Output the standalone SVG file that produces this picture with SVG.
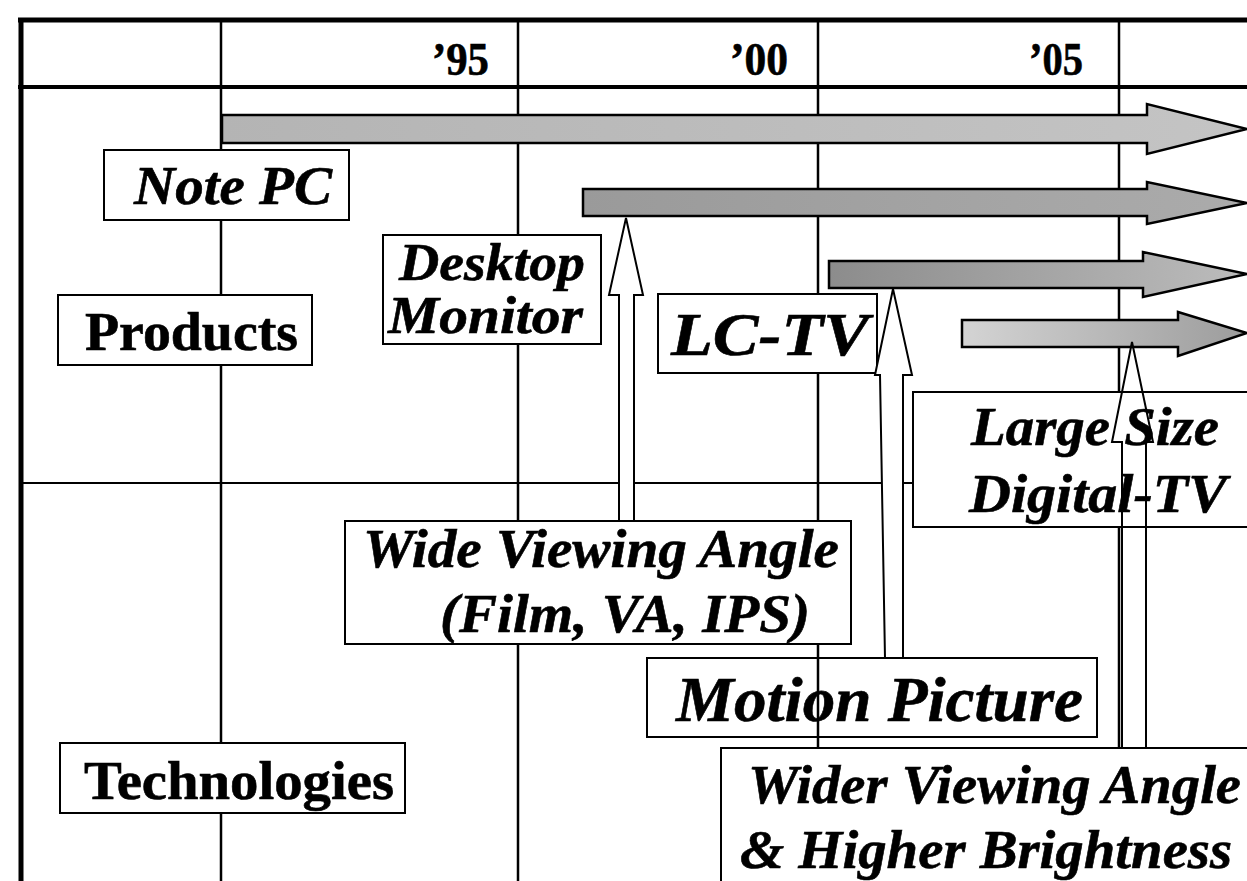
<svg xmlns="http://www.w3.org/2000/svg" width="1247" height="881" viewBox="0 0 1247 881">
<defs>
<style>
.grid{stroke:#000;stroke-width:2.5;fill:none}
.frame{stroke:#000;stroke-width:5;fill:none}
.box{fill:#fff;stroke:#000;stroke-width:2}
.boxo{fill:none;stroke:#000;stroke-width:2}
.bar{stroke:#000;stroke-width:2.5;stroke-linejoin:miter}
.hollow{fill:#fff;stroke:#000;stroke-width:2;stroke-linejoin:miter}
.hollown{fill:none;stroke:#000;stroke-width:2;stroke-linejoin:miter}
.bi{font-family:"Liberation Serif","Times New Roman",serif;font-weight:bold;font-style:italic;fill:#000;stroke:#000;stroke-width:0.6}
.b{font-family:"Liberation Serif","Times New Roman",serif;font-weight:bold;fill:#000;stroke:#000;stroke-width:0.6}
</style>
<linearGradient id="gNote" x1="0" x2="1" y1="0" y2="0"><stop offset="0" stop-color="#b4b4b4"/><stop offset="1" stop-color="#c4c4c4"/></linearGradient>
<linearGradient id="gDesk" x1="0" x2="1" y1="0" y2="0"><stop offset="0" stop-color="#9a9a9a"/><stop offset="1" stop-color="#ababab"/></linearGradient>
<linearGradient id="gLC" x1="0" x2="1" y1="0" y2="0"><stop offset="0" stop-color="#8c8c8c"/><stop offset="1" stop-color="#bcbcbc"/></linearGradient>
<linearGradient id="gLarge" x1="0" x2="1" y1="0" y2="0"><stop offset="0" stop-color="#d4d4d4"/><stop offset="1" stop-color="#9c9c9c"/></linearGradient>
</defs>
<rect width="1247" height="881" fill="#fff"/>
<g id="grid">
<line class="frame" x1="18" y1="20" x2="1247" y2="20"/>
<line class="frame" x1="21" y1="18" x2="21" y2="881"/>
<line class="grid" x1="18" y1="87" x2="1247" y2="87" style="stroke-width:4"/>
<line class="grid" x1="221" y1="20" x2="221" y2="881"/>
<line class="grid" x1="518" y1="20" x2="518" y2="881"/>
<line class="grid" x1="818" y1="20" x2="818" y2="881"/>
<line class="grid" x1="1119" y1="20" x2="1119" y2="881"/>
<line class="grid" x1="21" y1="483" x2="1247" y2="483" style="stroke-width:2"/>
<text class="b" x="432" y="75" font-size="46" textLength="57" lengthAdjust="spacingAndGlyphs">’95</text>
<text class="b" x="730" y="75" font-size="46" textLength="58" lengthAdjust="spacingAndGlyphs">’00</text>
<text class="b" x="1029" y="75" font-size="46" textLength="54" lengthAdjust="spacingAndGlyphs">’05</text>
</g>
<g id="timeline-bars">
<polygon class="bar" fill="url(#gNote)" points="222,115 1147,115 1147,104 1247,129 1147,154 1147,143 222,143"/>
<polygon class="bar" fill="url(#gDesk)" points="583,189 1147,189 1147,182 1247,203 1147,224 1147,216 583,216"/>
<polygon class="bar" fill="url(#gLC)" points="829,261 1143,261 1143,252 1247,274 1143,297 1143,288 829,288"/>
<polygon class="bar" fill="url(#gLarge)" points="962,320 1178,320 1178,312 1247,333 1178,356 1178,347 962,347"/>
</g>
<g id="note-pc"><rect class="box" x="104" y="150" width="245" height="70"/><text class="bi" x="134" y="204" font-size="55" textLength="198" lengthAdjust="spacingAndGlyphs">Note PC</text></g>
<g id="desktop-monitor"><rect class="box" x="383" y="235" width="218" height="109"/><text class="bi" x="399" y="280" font-size="53" textLength="186" lengthAdjust="spacingAndGlyphs">Desktop</text><text class="bi" x="388" y="333" font-size="53" textLength="195" lengthAdjust="spacingAndGlyphs">Monitor</text></g>
<g id="products"><rect class="box" x="58" y="295" width="254" height="70"/><text class="b" x="85" y="350" font-size="54" textLength="213" lengthAdjust="spacingAndGlyphs">Products</text></g>
<g id="lc-tv"><rect class="box" x="658" y="294" width="219" height="79"/><text class="bi" x="671" y="355" font-size="62" textLength="198" lengthAdjust="spacingAndGlyphs">LC-TV</text></g>
<g id="large-size-digital-tv"><rect class="box" x="913" y="392" width="350" height="135"/><text class="bi" x="971" y="445" font-size="55" textLength="248" lengthAdjust="spacingAndGlyphs">Large Size</text><text class="bi" x="969" y="512" font-size="55" textLength="258" lengthAdjust="spacingAndGlyphs">Digital-TV</text></g>
<g id="wide-viewing-angle"><rect class="box" x="345" y="521" width="506" height="123"/><text class="bi" x="363" y="567" font-size="55" textLength="476" lengthAdjust="spacingAndGlyphs">Wide Viewing Angle</text><text class="bi" x="440" y="632" font-size="55" textLength="370" lengthAdjust="spacingAndGlyphs">(Film, VA, IPS)</text></g>
<g id="technologies"><rect class="box" x="60" y="743" width="345" height="70"/><text class="b" x="84" y="799" font-size="55" textLength="310" lengthAdjust="spacingAndGlyphs">Technologies</text></g>
<g id="wider-viewing-angle"><rect class="box" x="721" y="748" width="540" height="150"/><text class="bi" x="748" y="803" font-size="55" textLength="493" lengthAdjust="spacingAndGlyphs">Wider Viewing Angle</text><text class="bi" x="740" y="868" font-size="55" textLength="492" lengthAdjust="spacingAndGlyphs">&amp; Higher Brightness</text></g>
<g id="connectors">
<polygon class="hollow" points="619,521 619,295 609,295 626,218 643,295 634,295 634,521"/>
<polygon class="hollow" points="885,658 880,375 875,375 893,289 912,375 903,375 903,658"/>
<polygon class="hollown" points="1122,748 1122,442 1112,442 1132,342 1153,442 1146,442 1146,748"/>
</g>
<g id="motion-picture"><rect class="boxo" x="647" y="658" width="450" height="79"/><text class="bi" x="676" y="721" font-size="63" textLength="407" lengthAdjust="spacingAndGlyphs">Motion Picture</text></g>
</svg>
